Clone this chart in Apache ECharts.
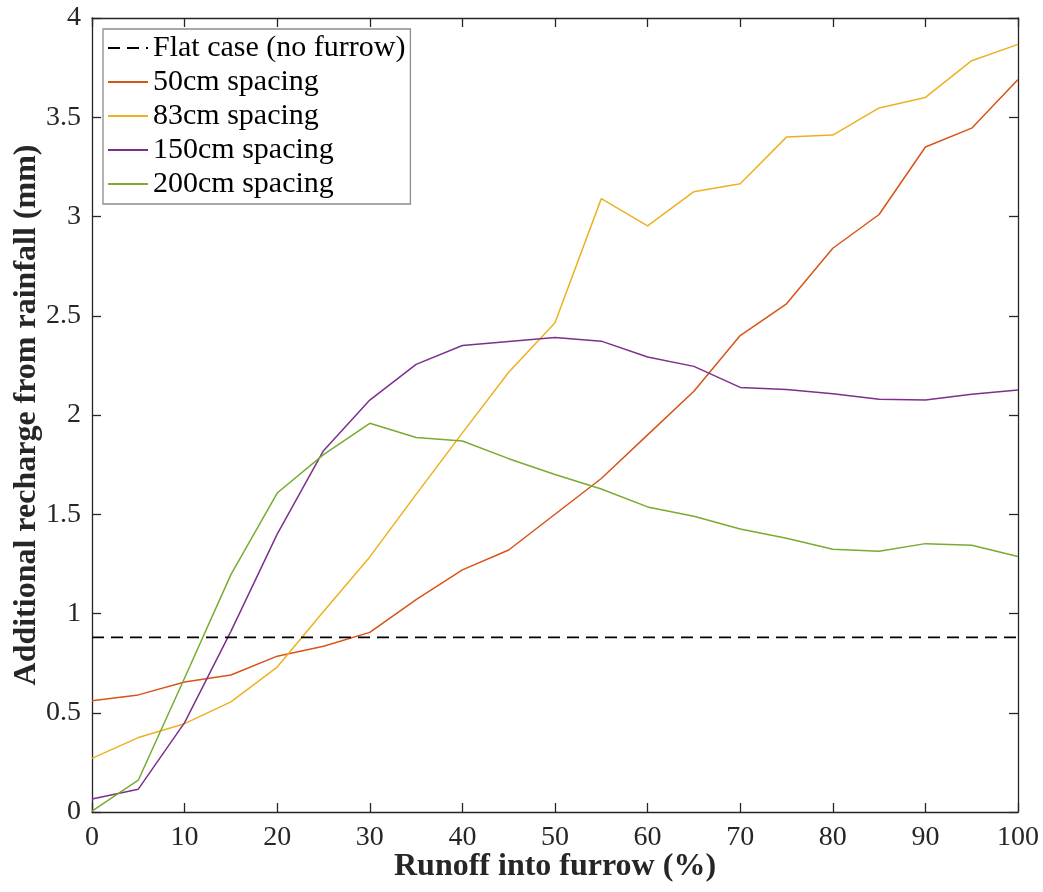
<!DOCTYPE html>
<html>
<head>
<meta charset="utf-8">
<script src="https://cdn.jsdelivr.net/npm/echarts@6/dist/echarts.min.js"></script>
<style>
  html, body { margin: 0; padding: 0; background: #fff; }
  #chart { width: 1043px; height: 892px; }
</style>
</head>
<body>
<div id="chart"></div>
<script>
// Runoff share directed into the furrow (%)
const runoff = [0, 5, 10, 15, 20, 25, 30, 35, 40, 45, 50, 55, 60, 65, 70, 75, 80, 85, 90, 95, 100];

// Additional recharge from rainfall (mm) per furrow spacing
const spacing50 = [0.56, 0.59, 0.655, 0.69, 0.785, 0.835, 0.905, 1.07, 1.22, 1.32, 1.50, 1.68, 1.90, 2.12, 2.40, 2.56, 2.84, 3.01, 3.35, 3.445, 3.69];
const spacing83 = [0.27, 0.375, 0.445, 0.555, 0.73, 1.01, 1.285, 1.60, 1.91, 2.215, 2.465, 3.09, 2.953, 3.125, 3.165, 3.40, 3.41, 3.547, 3.60, 3.785, 3.867];
const spacing150 = [0.065, 0.115, 0.45, 0.91, 1.40, 1.82, 2.075, 2.255, 2.35, 2.37, 2.39, 2.372, 2.292, 2.245, 2.139, 2.129, 2.107, 2.079, 2.076, 2.104, 2.126];
const spacing200 = [0.005, 0.16, 0.675, 1.196, 1.607, 1.80, 1.958, 1.887, 1.869, 1.78, 1.70, 1.627, 1.537, 1.49, 1.426, 1.379, 1.324, 1.314, 1.352, 1.344, 1.287];

// Recharge without a furrow
const flatCase = 0.88;

const seriesNames = ['Flat case (no furrow)', '50cm spacing', '83cm spacing', '150cm spacing', '200cm spacing'];
const seriesColors = ['#000000', '#D95319', '#EDB120', '#7E2F8E', '#77AC30'];

const pairs = ys => runoff.map((x, i) => [x, ys[i]]);

const font = '"Liberation Serif", "Times New Roman", serif';
const axisColor = '#262626';

const chart = echarts.init(document.getElementById('chart'), null, { renderer: 'canvas' });

const baseAxisLine = { show: true, onZero: false, lineStyle: { color: axisColor, width: 1.3 } };
const innerTicks = { show: true, inside: true, length: 9, lineStyle: { color: axisColor, width: 1.3 } };

chart.setOption({
  animation: false,
  backgroundColor: '#ffffff',
  textStyle: { fontFamily: font },
  grid: { left: 92, right: 25, top: 18, bottom: 80, containLabel: false, outerBoundsMode: 'none' },
  legend: {
    orient: 'vertical',
    left: 103,
    top: 29,
    padding: [4, 5, 5, 4],
    itemWidth: 40,
    itemHeight: 12,
    itemGap: 4,
    backgroundColor: '#ffffff',
    borderColor: '#8c8c8c',
    borderWidth: 1.3,
    // line-only keys: hide the marker dot drawn in the middle of each key
    itemStyle: { color: 'rgba(0,0,0,0)', borderWidth: 0, opacity: 0 },
    textStyle: { fontFamily: font, fontSize: 30, lineHeight: 30, color: '#000' },
    data: seriesNames,
  },
  xAxis: [
    {
      type: 'value', min: 0, max: 100, interval: 10,
      name: 'Runoff into furrow (%)', nameLocation: 'middle', nameGap: 39, nameMoveOverlap: false,
      nameTextStyle: { fontFamily: font, fontSize: 32, fontWeight: 'bold', color: '#262626' },
      axisLine: baseAxisLine, axisTick: innerTicks,
      axisLabel: { fontFamily: font, fontSize: 28, color: '#262626', margin: 12 },
      splitLine: { show: false },
    },
    {
      type: 'value', min: 0, max: 100, interval: 10, position: 'top',
      axisLine: baseAxisLine, axisTick: innerTicks,
      axisLabel: { show: false }, splitLine: { show: false },
    }
  ],
  yAxis: [
    {
      type: 'value', min: 0, max: 4, interval: 0.5,
      name: 'Additional recharge from rainfall (mm)', nameLocation: 'middle', nameGap: 49, nameMoveOverlap: false,
      nameTextStyle: { fontFamily: font, fontSize: 32, fontWeight: 'bold', color: '#262626' },
      axisLine: baseAxisLine, axisTick: innerTicks,
      axisLabel: { fontFamily: font, fontSize: 28, color: '#262626', margin: 11 },
      splitLine: { show: false },
    },
    {
      type: 'value', min: 0, max: 4, interval: 0.5, position: 'right',
      axisLine: baseAxisLine, axisTick: innerTicks,
      axisLabel: { show: false }, splitLine: { show: false },
    }
  ],
  series: [
    {
      name: seriesNames[0], type: 'line', symbol: 'none', z: 3,
      data: [[0, flatCase], [100, flatCase]],
      lineStyle: { color: seriesColors[0], width: 1.8, type: [12, 7] },
      itemStyle: { color: seriesColors[0] },
    },
    ...[spacing50, spacing83, spacing150, spacing200].map((ys, i) => ({
      name: seriesNames[i + 1], type: 'line', symbol: 'none', z: 2,
      data: pairs(ys),
      lineStyle: { color: seriesColors[i + 1], width: 1.5 },
      itemStyle: { color: seriesColors[i + 1] },
    })),
  ],
});
</script>
</body>
</html>
